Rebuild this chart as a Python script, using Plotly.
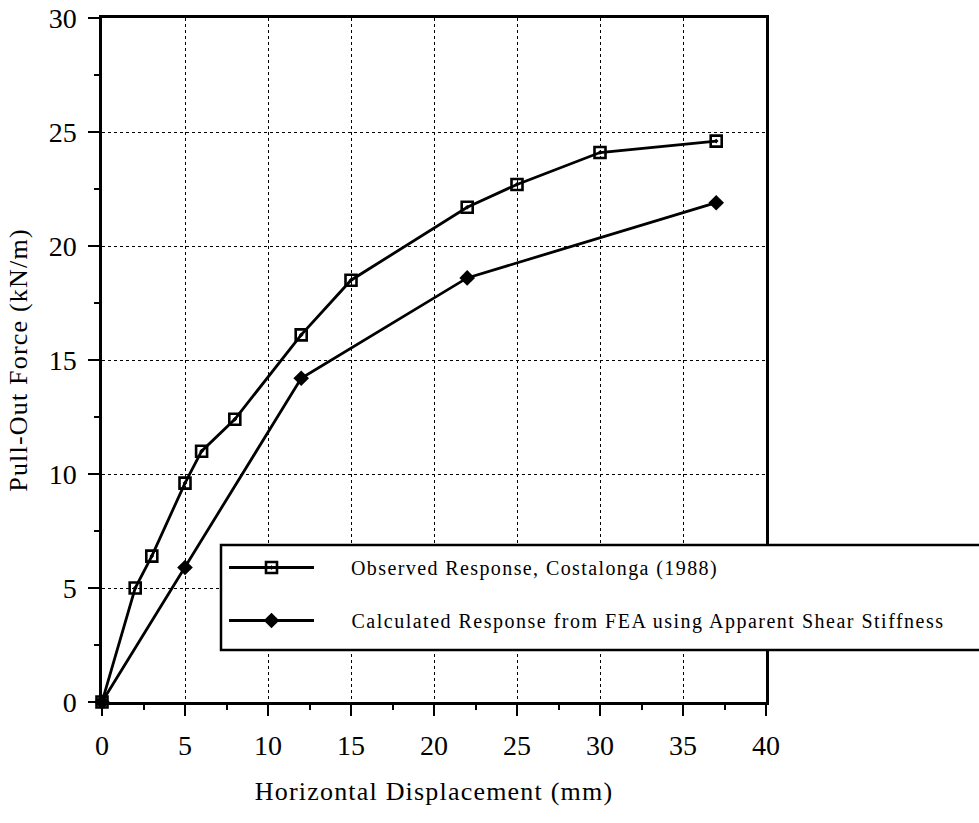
import plotly.graph_objects as go

obs_x = [0, 2, 3, 5, 6, 8, 12, 15, 22, 25, 30, 37]
obs_y = [0, 5, 6.4, 9.6, 11, 12.4, 16.1, 18.5, 21.7, 22.7, 24.1, 24.6]
calc_x = [0, 5, 12, 22, 37]
calc_y = [0, 5.9, 14.2, 18.6, 21.9]
x_ticks = [0, 5, 10, 15, 20, 25, 30, 35, 40]
y_ticks = [0, 5, 10, 15, 20, 25, 30]

serif = "Liberation Serif"
L, R, T, B = 102, 213, 18, 121
W, H = 979, 823
pw, ph = W - L - R, H - T - B


def px_x(p):
    return (p - L) / pw


def px_y(p):
    return (H - B - p) / ph


fig = go.Figure()
fig.add_trace(go.Scatter(
    x=obs_x, y=obs_y, mode="lines+markers",
    name="<span style='letter-spacing:1.4px'>     Observed Response, Costalonga (1988)</span>",
    line=dict(color="black", width=2.8),
    marker=dict(symbol="square-open-dot", size=11, color="black", line=dict(width=2.6, color="black")),
    cliponaxis=False, legendgroup="a"))
fig.add_trace(go.Scatter(
    x=calc_x, y=calc_y, mode="lines+markers",
    name="<span style='letter-spacing:1.5px'>     Calculated Response from FEA using Apparent Shear Stiffness</span>",
    line=dict(color="black", width=2.8),
    marker=dict(symbol="diamond", size=12, color="black"),
    cliponaxis=False, legendgroup="b"))

axis_common = dict(
    showline=True, linecolor="black", linewidth=2.5, mirror=True,
    showgrid=True, gridcolor="black", gridwidth=1.3, griddash="dot",
    ticks="outside", ticklen=11, tickwidth=2, tickcolor="black",
    zeroline=False, automargin=False,
    minor=dict(ticks="outside", ticklen=5, tickwidth=2, tickcolor="black", dtick=2.5, showgrid=False),
    tickfont=dict(family=serif, size=28, color="black"),
)
fig.update_xaxes(range=[0, 40], tickvals=x_ticks, ticktext=[str(v) for v in x_ticks],
                 title=dict(text="<span style='letter-spacing:1.2px'>Horizontal Displacement (mm)</span>",
                            font=dict(family=serif, size=26, color="black"), standoff=22),
                 ticklabelstandoff=6, **axis_common)
fig.update_yaxes(range=[0, 30], tickvals=y_ticks, ticktext=[str(v) for v in y_ticks],
                 title=dict(text="<span style='letter-spacing:1.2px'>Pull-Out Force (kN/m)</span>",
                            font=dict(family=serif, size=26, color="black"), standoff=14),
                 ticklabelstandoff=6, **axis_common)

fig.add_shape(type="rect", xref="paper", yref="paper",
              x0=px_x(221), x1=px_x(1000), y0=px_y(650), y1=px_y(545),
              line=dict(color="black", width=2.5), fillcolor="white", layer="above")

fig.update_layout(
    width=W, height=H,
    margin=dict(l=L, r=R, t=T, b=B),
    paper_bgcolor="white", plot_bgcolor="white",
    legend=dict(x=px_x(224), y=px_y(548), xanchor="left", yanchor="top",
                bgcolor="rgba(0,0,0,0)", borderwidth=0,
                font=dict(family=serif, size=20, color="black"),
                itemwidth=85, tracegroupgap=24, traceorder="grouped"),
    showlegend=True,
)
fig.write_html("out.html")
